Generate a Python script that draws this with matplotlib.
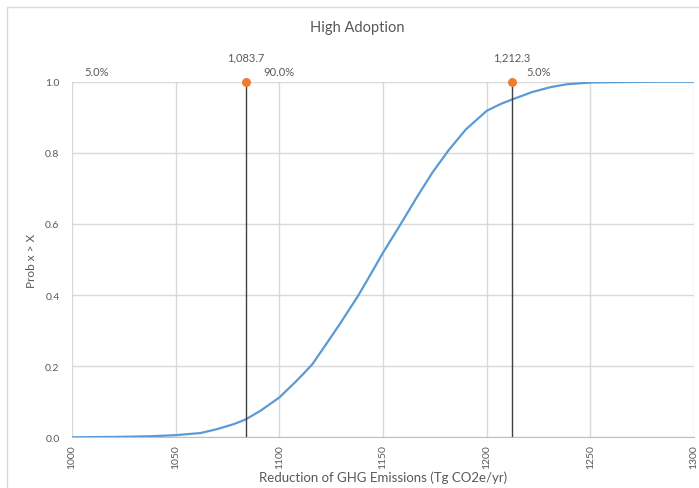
import matplotlib
matplotlib.use("Agg")
import matplotlib.pyplot as plt
from matplotlib.patches import Rectangle

plt.rcParams['font.family'] = ['Lato', 'DejaVu Sans']

# cumulative curve
emissions = [1000, 1020, 1030, 1038, 1050, 1062, 1070, 1078, 1083.7, 1091, 1100,
             1108, 1112, 1116, 1122, 1129, 1138, 1144, 1150, 1159, 1166, 1174, 1182, 1190,
             1200, 1207, 1212.3, 1222, 1231, 1239, 1251, 1265, 1280, 1300]
prob = [0.0, 0.001, 0.002, 0.003, 0.006, 0.012, 0.023, 0.037, 0.05, 0.075, 0.112,
        0.157, 0.181, 0.206, 0.257, 0.317, 0.398, 0.458, 0.519, 0.604, 0.672, 0.746,
        0.81, 0.866, 0.918, 0.938, 0.95, 0.971, 0.985, 0.993, 0.998, 0.999, 1.0, 1.0]

cut_low = 1083.7
cut_high = 1212.3
cut_labels = ["1,083.7", "1,212.3"]
pct_labels = ["5.0%", "90.0%", "5.0%"]

x_ticks = [1000, 1050, 1100, 1150, 1200, 1250, 1300]
y_ticks = [0.0, 0.2, 0.4, 0.6, 0.8, 1.0]

grey = "#595959"
grid_c = "#d9d9d9"

fig = plt.figure(figsize=(6.99, 4.89), dpi=100)
fig.patches.append(Rectangle((7 / 699, -0.1), 1.2, 1 - 8 / 489 + 0.1,
                             transform=fig.transFigure, fill=False,
                             edgecolor="#d9d9d9", linewidth=1))
ax = fig.add_axes([72 / 699, 1 - 438.3 / 489, (694 - 72) / 699, (438.3 - 82.7) / 489])

ax.plot(emissions, prob, color="#5b9bd5", linewidth=1.6, zorder=3)
for c in (cut_low, cut_high):
    ax.plot([c, c], [0, 1.0], color="#404040", linewidth=1.0, zorder=4)
ax.scatter([cut_low, cut_high], [1.0, 1.0], color="#ed7d31", s=30, zorder=5,
           clip_on=False)

ax.set_xlim(1000, 1300)
ax.set_ylim(0, 1.0)
ax.set_xticks(x_ticks)
ax.set_yticks(y_ticks)
ax.set_xticklabels([str(t) for t in x_ticks], rotation=90)
ax.set_yticklabels(["%.1f" % t for t in y_ticks])
ax.tick_params(axis="both", length=0, labelsize=7.5, colors=grey)
ax.tick_params(axis="x", pad=5)
ax.tick_params(axis="y", pad=9)
ax.grid(True, color=grid_c, linewidth=1.0)
ax.set_axisbelow(True)
for s in ax.spines.values():
    s.set_visible(False)
ax.spines["bottom"].set_visible(True)
ax.spines["bottom"].set_color("#bfbfbf")

ax.set_xlabel("Reduction of GHG Emissions (Tg CO2e/yr)", fontsize=9.5, color=grey,
              labelpad=2)
ax.set_ylabel("Prob x > X", fontsize=8.5, color=grey, labelpad=6)
fig.text(357 / 699, 1 - 28 / 489, "High Adoption", ha="center", va="center",
         fontsize=10.5, color=grey)

# cutoff and percentage labels above the plot
lbl = dict(textcoords="offset points", ha="center", va="center", fontsize=8, color=grey)
ax.annotate(cut_labels[0], (cut_low, 1.0), xytext=(0, 18), **lbl)
ax.annotate(cut_labels[1], (cut_high, 1.0), xytext=(0, 18), **lbl)
ax.annotate(pct_labels[0], (1000, 1.0), xytext=(18, 7), **lbl)
ax.annotate(pct_labels[1], (cut_low, 1.0), xytext=(24, 7), **lbl)
ax.annotate(pct_labels[2], (cut_high, 1.0), xytext=(19, 7), **lbl)

fig.savefig("out.png", dpi=100)
